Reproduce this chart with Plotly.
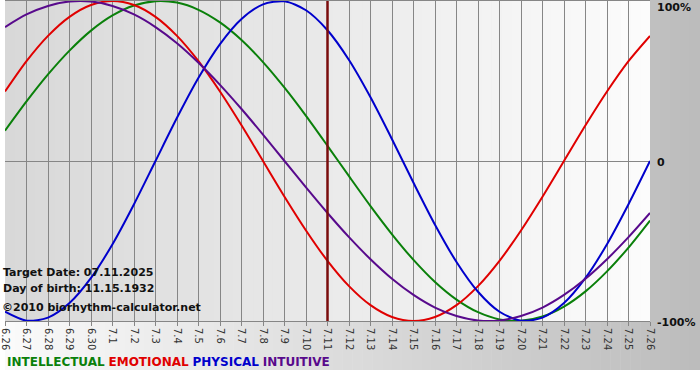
import plotly.graph_objects as go

day_labels = ["6.26", "6.27", "6.28", "6.29", "6.30", "7.1", "7.2", "7.3", "7.4", "7.5",
              "7.6", "7.7", "7.8", "7.9", "7.10", "7.11", "7.12", "7.13", "7.14", "7.15",
              "7.16", "7.17", "7.18", "7.19", "7.20", "7.21", "7.22", "7.23", "7.24", "7.25", "7.26"]

intellectual = [0.189, 0.372, 0.541, 0.690, 0.815, 0.910, 0.972, 0.999, 0.990, 0.945, 0.866,
                0.756, 0.618, 0.458, 0.282, 0.095, -0.095, -0.282, -0.458, -0.618, -0.756,
                -0.866, -0.945, -0.990, -0.999, -0.972, -0.910, -0.815, -0.690, -0.541, -0.372]
emotional = [0.434, 0.624, 0.782, 0.901, 0.975, 1.0, 0.975, 0.901, 0.782, 0.624, 0.434,
             0.223, 0.0, -0.223, -0.434, -0.624, -0.782, -0.901, -0.975, -1.0, -0.975,
             -0.901, -0.782, -0.624, -0.434, -0.223, 0.0, 0.223, 0.434, 0.624, 0.782]
physical = [-0.942, -0.998, -0.979, -0.888, -0.731, -0.520, -0.270, 0.0, 0.270, 0.520, 0.731,
            0.888, 0.979, 0.998, 0.942, 0.817, 0.631, 0.398, 0.136, -0.136, -0.398,
            -0.631, -0.817, -0.942, -0.998, -0.979, -0.888, -0.731, -0.520, -0.270, 0.0]
intuitive = [0.837, 0.916, 0.969, 0.997, 0.997, 0.969, 0.916, 0.837, 0.736, 0.614, 0.476,
             0.325, 0.165, 0.0, -0.165, -0.325, -0.476, -0.614, -0.736, -0.837, -0.916,
             -0.969, -0.997, -0.997, -0.969, -0.916, -0.837, -0.736, -0.614, -0.476, -0.325]

target_label = "7.11"
y_labels = ["100%", "0", "-100%"]
y_label_vals = [1, 0, -1]

series = [
    ("INTELLECTUAL", intellectual, "#0a800a"),
    ("EMOTIONAL", emotional, "#e00000"),
    ("PHYSICAL", physical, "#0000cc"),
    ("INTUITIVE", intuitive, "#580a8c"),
]

W, H = 700, 380
ML, MR, MT, MB = 0, 50, 1, 59
PW = W - ML - MR
PH = H - MT - MB

x_idx = list(range(len(day_labels)))

fig = go.Figure()
for name, vals, col in series:
    fig.add_trace(go.Scatter(x=x_idx, y=vals, mode="lines", name=name,
                             line=dict(color=col, width=2, shape="spline", smoothing=0.8),
                             hoverinfo="skip"))

shapes = []
# outer gradient (white -> gray, left to right), covering 0..370 px vertically
n_out = 70
for i in range(n_out):
    px0 = i * W / n_out
    px1 = (i + 1) * W / n_out + 0.5
    t = (i + 0.5) / n_out
    g = int(round(250 - (250 - 188) * t))
    shapes.append(dict(type="rect", xref="paper", yref="paper",
                       x0=px0 / PW, x1=px1 / PW,
                       y0=(PH + MT - 370) / PH, y1=(PH + MT) / PH,
                       fillcolor=f"rgb({g},{g},{g})", line=dict(width=0), layer="below"))
# plot area gradient (gray -> white)
n_in = 65
for i in range(n_in):
    t = (i + 0.5) / n_in
    g = int(round(216 + (252 - 216) * t))
    shapes.append(dict(type="rect", xref="paper", yref="paper",
                       x0=i / n_in, x1=min((i + 1) / n_in + 0.001, 1.0),
                       y0=0, y1=1,
                       fillcolor=f"rgb({g},{g},{g})", line=dict(width=0), layer="below"))
# target date line
ti = day_labels.index(target_label)
shapes.append(dict(type="line", xref="x", yref="paper", x0=ti, x1=ti, y0=0, y1=1,
                   line=dict(color="#7a0c0c", width=2.5), layer="above"))

annotations = []
for lab, v in zip(y_labels, y_label_vals):
    annotations.append(dict(xref="paper", yref="y", x=1, y=v, text=f"<b>{lab}</b>",
                            showarrow=False, xanchor="left", yanchor="middle", xshift=5,
                            yshift=(-6 if v == 1 else -1),
                            font=dict(family="DejaVu Sans", size=11, color="#111111")))

info_font = dict(family="DejaVu Sans", size=11, color="#111111")
def py2paper(py):
    return (PH + MT - py) / PH

annotations.append(dict(xref="paper", yref="paper", x=-4 / PW, y=py2paper(272),
                        text="<b>Target Date: 07.11.2025</b>", showarrow=False,
                        xanchor="left", yanchor="middle", font=info_font))
annotations.append(dict(xref="paper", yref="paper", x=-4 / PW, y=py2paper(288),
                        text="<b>Day of birth: 11.15.1932</b>", showarrow=False,
                        xanchor="left", yanchor="middle", font=info_font))
annotations.append(dict(xref="paper", yref="paper", x=-5 / PW, y=py2paper(307),
                        text="<b>©2010 biorhythm-calculator.net</b>", showarrow=False,
                        xanchor="left", yanchor="middle", font=info_font))

legend_text = " ".join(
    f"<span style='color:{c}'><b>{n}</b></span>" for n, _, c in series)
annotations.append(dict(xref="paper", yref="paper", x=0, y=py2paper(362),
                        text=legend_text, showarrow=False, xanchor="left", yanchor="middle",
                        font=dict(family="DejaVu Sans", size=12)))

fig.update_layout(
    width=W, height=H,
    margin=dict(l=ML, r=MR, t=MT, b=MB, pad=0),
    paper_bgcolor="white",
    plot_bgcolor="rgba(0,0,0,0)",
    showlegend=False,
    shapes=shapes,
    annotations=annotations,
    xaxis=dict(range=[0, len(day_labels) - 1], tickvals=x_idx, ticktext=day_labels,
               tickangle=90, showgrid=True, gridcolor="#868686", gridwidth=1,
               zeroline=False, showline=True, linecolor="#868686", mirror=True,
               ticks="outside", ticklen=4, tickcolor="#868686",
               ticklabeloverflow="allow",
               tickfont=dict(family="DejaVu Sans", size=10, color="#333333"),
               fixedrange=True),
    yaxis=dict(range=[-1, 1], showgrid=False, zeroline=True, zerolinecolor="#868686",
               zerolinewidth=1, showticklabels=False, ticks="", showline=False,
               fixedrange=True),
)

fig.write_html("out.html", config={"displayModeBar": False},
               post_script="document.body.style.margin='0';")
